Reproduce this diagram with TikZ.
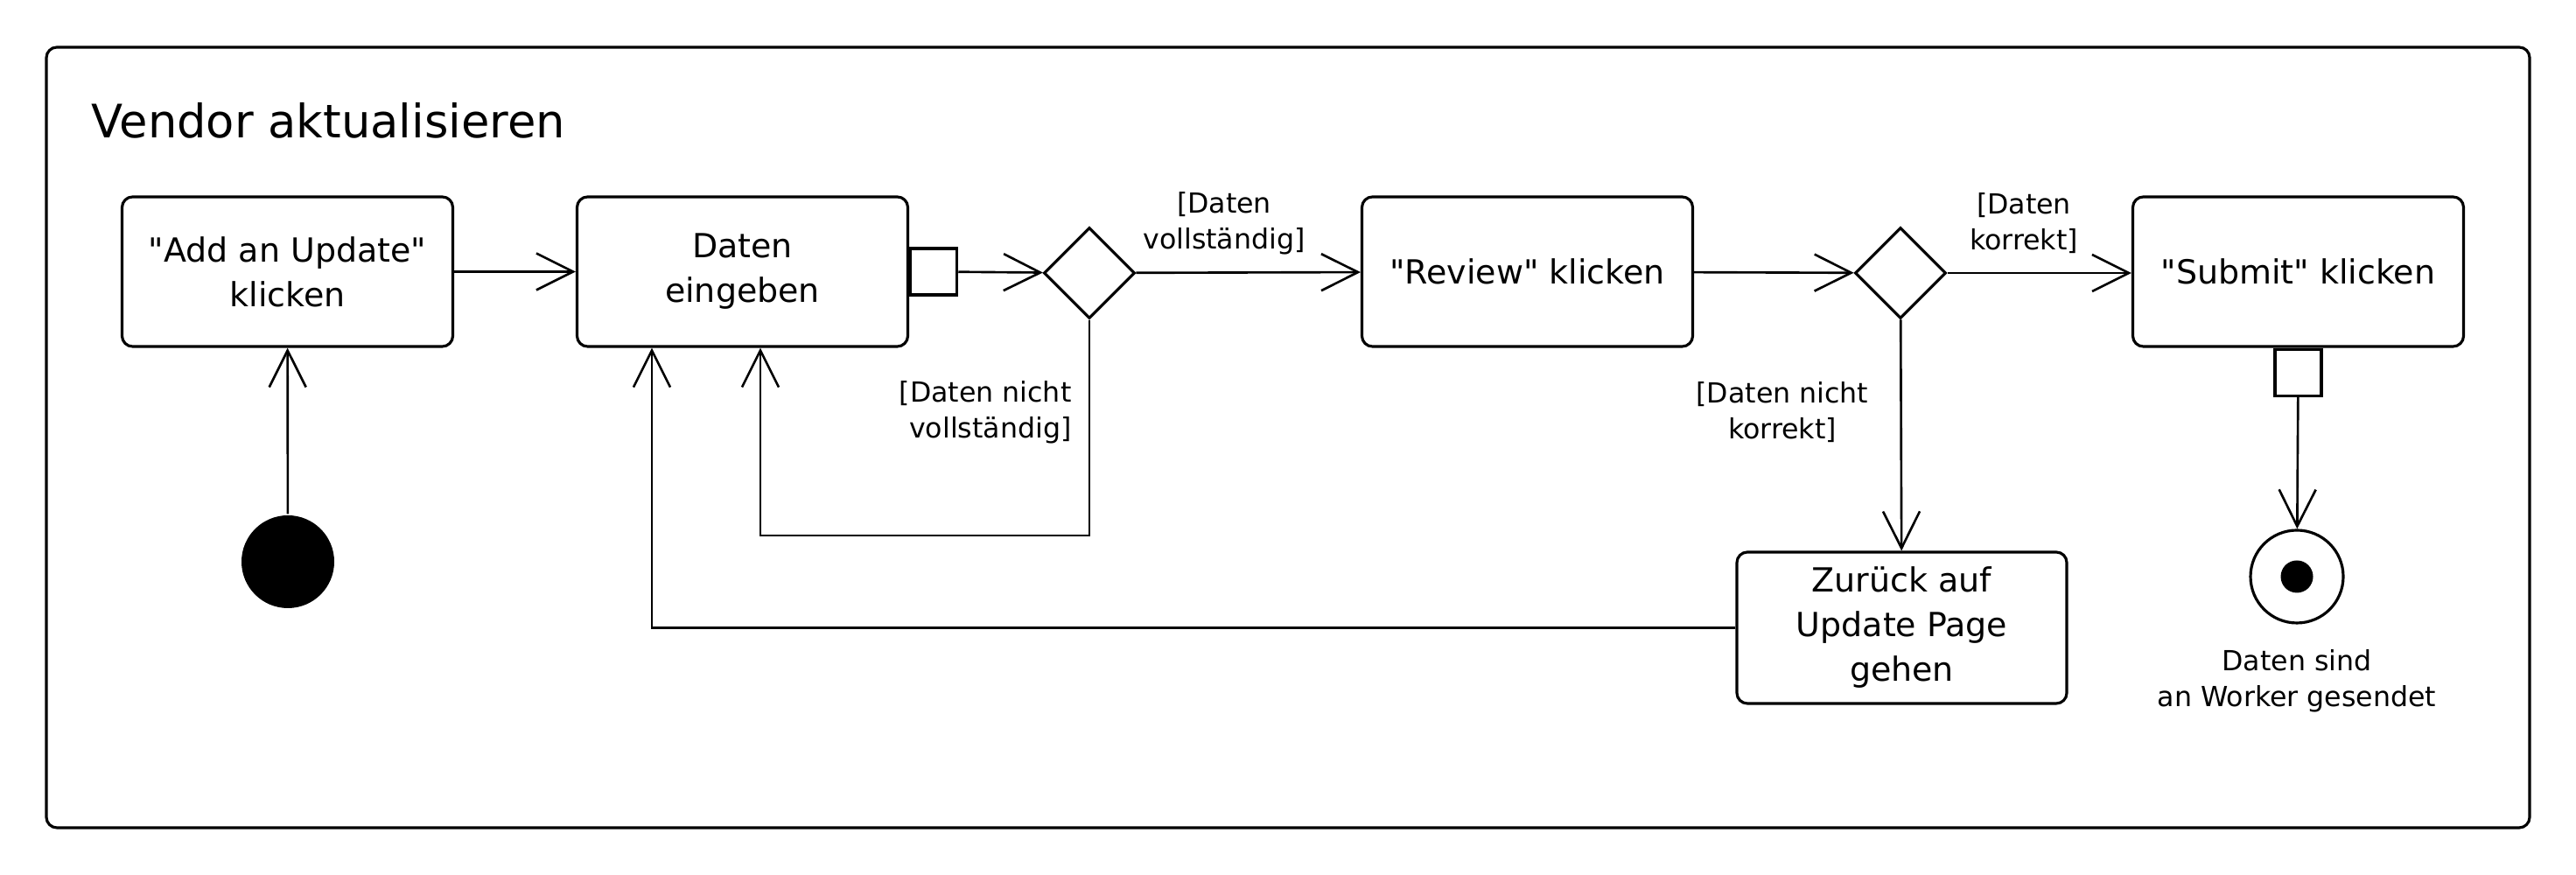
\documentclass[tikz,border=0pt]{standalone}
\usepackage{fontspec}
\setmainfont{DejaVu Sans}[Ligatures=TeXOff]
\usetikzlibrary{arrows.meta,shapes.geometric}

\begin{document}
\begin{tikzpicture}[
        line width=0.9pt,
        action/.style={draw, rounded corners=0.12cm,
            minimum width=3.78cm, minimum height=1.71cm,
            inner sep=0pt, align=center,
            font=\fontsize{10.8}{14.5}\selectfont},
        decision/.style={draw, diamond, inner sep=0pt,
            minimum width=1.04cm, minimum height=1.04cm},
        pinbox/.style={draw, fill=white, inner sep=0pt, minimum size=0.53cm},
        guard/.style={inner sep=0pt, align=center,
            font=\fontsize{9}{11.6}\selectfont},
        flow/.style={-{Straight Barb[length=0.42cm, width=0.42cm]},
            line width=0.75pt},
    ]
    \useasboundingbox (0, 0) rectangle (29.44, 10);
    \pgfmathsetmacro{\r}{0.53}

    % frame
    \draw[rounded corners=0.12cm] (0.53, 0.54) rectangle (28.91, 9.46);
    \node[anchor=base west, inner sep=0pt,
        font=\fontsize{15}{18}\selectfont] (title) at (1.03, 8.42)
        {Vendor aktualisieren};

    % actions
    \node[action] (add) at (3.285, 6.895) {"Add an Update"\\klicken};
    \node[action] (enter) at (8.485, 6.895) {Daten\\eingeben};
    \node[action] (review) at (17.455, 6.895) {"Review" klicken};
    \node[action] (submit) at (26.265, 6.895) {"Submit" klicken};
    \node[action, minimum width=3.77cm, minimum height=1.73cm]
        (back) at (21.735, 2.825) {Zurück auf\\Update Page\\gehen};

    % pins
    \node[pinbox, anchor=west] (pinenter) at (enter.east) {};
    \node[pinbox, anchor=north] (pinsubmit) at (submit.south) {};

    % decisions
    \node[decision] (check) at (12.45, 6.88) {};
    \node[decision] (verify) at (21.72, 6.88) {};

    % start and end
    \node[circle, fill, inner sep=0pt, minimum size={2*\r cm}]
        (start) at (3.29, 3.58) {};
    \node[circle, draw, inner sep=0pt, minimum size={2*\r cm}]
        (final) at (26.25, 3.41) {};
    \fill (final.center) circle (0.185);
    \node[guard] (finallabel) at (26.25, 2.22)
        {Daten sind\\an Worker gesendet};

    % flows
    \draw[flow] (start) -- (add);
    \draw[flow] (add) -- (enter);
    \draw[flow] (pinenter) -- (check);
    \draw[flow] (check) -- (review);
    \draw[flow] (review) -- (verify);
    \draw[flow] (verify) -- (submit.west |- verify);
    \draw[flow] (verify) -- (back);
    \draw[flow] (pinsubmit) -- (final);
    \draw[flow] (check.south) |- (8.69, 3.88) -- (8.69, 3.88 |- enter.south);
    \draw[flow] (back.west) -| (7.45, 3.88 |- enter.south);

    % guards
    \node[guard] (gcomplete) at (13.99, 7.45) {[Daten\\vollständig]};
    \node[guard, align=right, anchor=east] (gincomplete) at (12.26, 5.29)
        {[Daten nicht\\vollständig]};
    \node[guard] (gcorrect) at (23.13, 7.45) {[Daten\\korrekt]};
    \node[guard] (gwrong) at (20.37, 5.29) {[Daten nicht\\korrekt]};
\end{tikzpicture}
\end{document}
